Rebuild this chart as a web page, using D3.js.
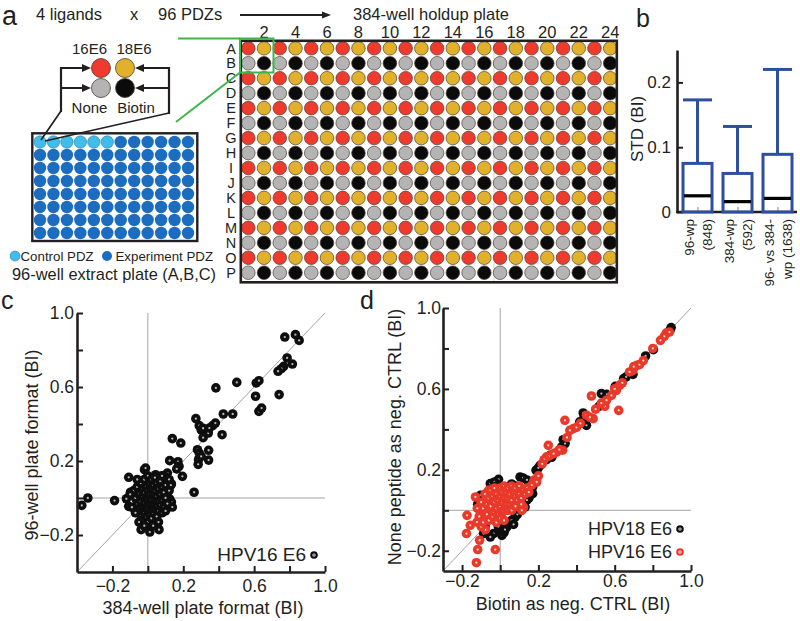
<!DOCTYPE html>
<html><head><meta charset="utf-8">
<script src="https://cdn.jsdelivr.net/npm/d3@7"></script>
<style>
body{margin:0;background:#fff;}
svg{display:block;font-family:"Liberation Sans",Arial,Helvetica,sans-serif;}
</style></head><body>
<svg id="fig" width="800" height="621"></svg>
<script>
// ---------------- DATA ----------------
const ligands = ["16E6", "18E6", "None", "Biotin"];
const ligandColors = ["#ee3b2e", "#e2b12b", "#b4b4b4", "#0b0b0b"];
const plateColumnLabels = [2, 4, 6, 8, 10, 12, 14, 16, 18, 20, 22, 24];
const plateRowLabels = ["A","B","C","D","E","F","G","H","I","J","K","L","M","N","O","P"];
const extractLegend = ["Control PDZ", "Experiment PDZ"];
const extractColors = ["#41bde9", "#1c6dbf"];
const controlWellCount = 6;

const stdCategories = [["96-wp", "(848)"], ["384-wp", "(592)"], ["96- vs 384-", "wp (1638)"]];
const stdQ1 = [0, 0, 0];
const stdMedian = [0.025, 0.016, 0.021];
const stdQ3 = [0.075, 0.0595, 0.089];
const stdWhiskerHigh = [0.173, 0.132, 0.22];
const stdTicks = [0, 0.1, 0.2];

const scatterTicks = [-0.2, 0, 0.2, 0.4, 0.6, 0.8, 1.0];
const scatterTickLabels = [-0.2, 0.2, 0.6, 1.0];

// panel c: HPV16 E6, 384-well (x) vs 96-well (y)
const hpv16Formats = [
[0.773,0.870],[0.833,0.883],[0.854,0.852],[0.786,0.757],[0.816,0.724],[0.767,0.712],[0.754,0.699],[0.735,0.685],
[0.741,0.559],[0.612,0.622],[0.627,0.634],[0.608,0.550],[0.627,0.468],[0.642,0.486],[0.384,0.595],[0.502,0.625],
[0.426,0.454],[0.479,0.454],[0.271,0.429],[0.366,0.391],[0.381,0.405],[0.419,0.342],[0.290,0.391],[0.301,0.369],
[0.312,0.377],[0.341,0.351],[0.347,0.378],[0.312,0.326],[0.280,0.261],[0.290,0.243],[0.343,0.258],[0.286,0.207],
[0.343,0.205],[0.284,0.182],[0.301,0.225],[0.138,0.321],[0.186,0.297],[0.123,0.202],[0.170,0.196],[0.176,0.171],
[0.163,0.157],[0.195,0.117],[0.261,0.031],[0.133,0.076],[0.123,-0.005],[0.133,-0.022],[0.138,-0.049],[-0.373,-0.040],
[-0.339,0.000],[-0.188,-0.014],[-0.108,0.112],[-0.121,-0.004],[-0.108,-0.045],[-0.098,0.031],[-0.038,-0.171],[0.011,-0.184],
[0.063,-0.171],[-0.013,-0.146],[0.044,-0.135],[0.091,0.090],[0.110,0.135],[0.091,0.121],[-0.019,0.153],[-0.013,0.162],
[0.044,0.126],
[-0.08,0.04],[-0.07,0.0],[-0.06,-0.03],[-0.06,0.06],[-0.05,0.02],[-0.05,-0.06],[-0.04,0.08],[-0.04,-0.02],[-0.04,-0.09],
[-0.03,0.05],[-0.03,0.01],[-0.03,-0.05],[-0.03,-0.12],[-0.02,0.10],[-0.02,0.03],[-0.02,-0.03],[-0.02,-0.08],[-0.01,0.06],
[-0.01,0.0],[-0.01,-0.05],[-0.01,-0.10],[0.0,0.12],[0.0,0.04],[0.0,-0.01],[0.0,-0.06],[0.0,-0.13],[0.01,0.08],[0.01,0.02],
[0.01,-0.03],[0.01,-0.09],[0.02,0.10],[0.02,0.05],[0.02,-0.01],[0.02,-0.06],[0.02,-0.11],[0.03,0.07],[0.03,0.02],[0.03,-0.04],
[0.03,-0.08],[0.04,0.11],[0.04,0.04],[0.04,-0.01],[0.04,-0.06],[0.05,0.08],[0.05,0.01],[0.05,-0.04],[0.05,-0.10],[0.06,0.05],
[0.06,-0.02],[0.06,-0.07],[0.07,0.09],[0.07,0.02],[0.07,-0.04],[0.08,0.06],[0.08,-0.01],[0.08,-0.08],[0.09,0.03],[0.09,-0.05],
[0.10,0.07],[0.10,0.0],[0.11,-0.03],[0.12,0.04],[-0.05,-0.13],[0.03,-0.15],[0.06,-0.13],[-0.09,-0.05],[-0.10,0.02],[0.12,0.10],
[0.13,0.07],[-0.07,-0.08],[-0.06,0.10],[0.08,0.12],[0.10,-0.07],[-0.02,-0.15]
];

// panel d: biotin control (x) vs none-peptide control (y)
const hpv18Controls = [
[0.896,0.903],[0.890,0.890],[0.803,0.794],[0.762,0.763],[0.696,0.672],[0.647,0.651],[0.660,0.660],[0.603,0.613],
[0.557,0.573],[0.530,0.577],[0.518,0.514],[0.435,0.481],[0.452,0.420],[0.417,0.437],[0.440,0.460],[0.330,0.349],
[0.322,0.313],[0.340,0.330],[0.261,0.272],[0.243,0.250],[0.270,0.262],[0.209,0.222],[0.188,0.198],[0.200,0.210],
[0.170,0.115],[0.160,0.130],[0.104,0.165],[0.120,0.160],[0.140,0.150],[-0.009,0.153],[-0.052,0.132],[-0.030,0.140],
[-0.104,0.074],[-0.118,0.030],[-0.087,-0.115],[-0.035,-0.115],[0.000,-0.099],[0.035,-0.082],[0.078,-0.033],[0.130,0.016],
[0.170,0.082],[-0.052,-0.132],[0.009,-0.124],[-0.070,-0.040],[0.020,-0.110],[0.050,-0.060],[0.060,-0.050],[0.090,-0.020],
[0.110,0.000],[0.150,0.060],[0.160,0.090],[0.120,0.040],[0.100,0.030],[-0.060,0.090],[-0.080,0.060],[-0.020,0.120],
[0.060,0.130],[0.080,0.120],[-0.100,0.000],[-0.080,-0.080],[0.040,0.100],[0.000,0.100],[0.025,-0.095],[-0.010,-0.080],
[0.070,-0.070],[0.140,0.050]
];
const hpv16Controls = [
[0.870,0.876],[0.887,0.881],[0.860,0.860],[0.717,0.717],[0.696,0.692],[0.678,0.684],[0.730,0.720],[0.626,0.618],
[0.609,0.593],[0.583,0.568],[0.557,0.544],[0.478,0.565],[0.548,0.514],[0.621,0.494],[0.487,0.453],[0.452,0.470],
[0.470,0.460],[0.339,0.445],[0.383,0.404],[0.365,0.395],[0.400,0.410],[0.252,0.321],[0.327,0.297],[0.296,0.288],
[0.310,0.300],[0.243,0.264],[0.230,0.250],[0.177,0.148],[0.191,0.140],[0.165,0.124],[0.200,0.170],[0.122,0.016],
[0.113,0.000],[-0.174,-0.025],[-0.177,-0.115],[-0.157,-0.074],[-0.108,-0.148],[-0.118,-0.194],[-0.026,-0.194],[-0.125,-0.259],
[-0.130,0.066],[-0.061,0.099],[-0.083,-0.016],[-0.078,-0.096],[-0.122,-0.058],
[0.22,0.23],[0.26,0.27],[0.28,0.28],[0.35,0.36],[0.42,0.43],[0.50,0.50],[0.53,0.53],[0.60,0.60],[0.64,0.63],[0.70,0.71],
[0.75,0.74],[0.80,0.80],[0.84,0.84],
[-0.10,0.04],[-0.09,0.01],[-0.08,0.08],[-0.07,0.03],[-0.07,-0.02],[-0.06,0.06],[-0.06,-0.05],[-0.05,0.10],[-0.05,0.02],
[-0.04,-0.03],[-0.04,0.07],[-0.03,0.11],[-0.03,0.04],[-0.03,-0.01],[-0.02,0.08],[-0.02,0.01],[-0.02,-0.06],[-0.01,0.05],
[-0.01,-0.02],[0.00,0.11],[0.00,0.07],[0.00,0.02],[0.00,-0.04],[0.01,0.09],[0.01,0.04],[0.01,-0.01],[0.02,0.12],[0.02,0.06],
[0.02,0.00],[0.02,-0.05],[0.03,0.09],[0.03,0.03],[0.04,0.11],[0.04,0.06],[0.04,0.00],[0.05,0.08],[0.05,0.03],[0.06,0.12],
[0.06,0.05],[0.07,0.09],[0.07,0.02],[0.08,0.07],[0.08,0.11],[0.09,0.05],[0.10,0.08],[0.10,0.12],[0.11,0.06],[0.12,0.10],
[0.13,0.08],[0.14,0.11],[0.15,0.09],[0.06,0.00],[0.08,0.02],[0.11,0.03],[-0.11,-0.03],[-0.10,-0.08],[-0.09,-0.06],[-0.12,0.01]
];

// ---------------- DRAWING ----------------
const INK = "#231f20";
const svg = d3.select("#fig");
svg.append("rect").attr("width", 800).attr("height", 621).attr("fill", "#fff");

function label(g, x, y, s, size, anchor) {
  return g.append("text").attr("x", x).attr("y", y).attr("font-size", size)
    .attr("text-anchor", anchor || "start").attr("fill", INK).text(s);
}
function arrowHead(g, tipX, tipY, dir, len, half) {
  const b = tipX - dir * len;
  g.append("path").attr("d", `M${tipX},${tipY}L${b},${tipY - half}L${b},${tipY + half}Z`).attr("fill", INK);
}

// ===== Panel a =====
const ga = svg.append("g");
label(ga, 2, 25, "a", 27);
label(ga, 36, 20, "4 ligands", 16.5);
label(ga, 130, 20, "x", 16.5);
label(ga, 158, 20, "96 PDZs", 16.5);
ga.append("line").attr("x1", 240).attr("x2", 324).attr("y1", 15).attr("y2", 15).attr("stroke", INK).attr("stroke-width", 2);
arrowHead(ga, 331, 15, 1, 9, 3.5);
label(ga, 353, 20, "384-well holdup plate", 16.5);

// 384-well plate
const colX = d3.scalePoint().domain(d3.range(1, 25)).range([248.3, 610.2]);
const rowY = d3.scalePoint().domain(plateRowLabels).range([48.3, 272.7]);
const wells = [];
plateRowLabels.forEach((r, ri) => colX.domain().forEach(c => {
  const li = (ri % 2 === 0 ? 0 : 2) + (c % 2 === 1 ? 0 : 1);
  wells.push({ r, c, li });
}));
ga.append("rect").attr("x", 240.8).attr("y", 40.8).attr("width", 376).attr("height", 241.5).attr("fill", "#fff");
ga.append("line").attr("x1", 494).attr("x2", 494).attr("y1", 41).attr("y2", 282).attr("stroke", "#c8c8c8").attr("stroke-width", 0.8);
ga.selectAll(null).data(wells).join("circle")
  .attr("cx", d => colX(d.c)).attr("cy", d => rowY(d.r)).attr("r", 6.8)
  .attr("fill", d => ligandColors[d.li]).attr("stroke", "#4a3f35").attr("stroke-width", 0.7);
ga.append("rect").attr("x", 240.8).attr("y", 40.8).attr("width", 376).attr("height", 241.5)
  .attr("fill", "none").attr("stroke", INK).attr("stroke-width", 2.6);
ga.selectAll(null).data(plateColumnLabels).join("text")
  .attr("x", d => colX(d)).attr("y", 37.5).attr("text-anchor", "middle").attr("font-size", 16.5).attr("fill", INK).text(d => d);
ga.selectAll(null).data(plateRowLabels).join("text")
  .attr("x", 231).attr("y", d => rowY(d) + 5.2)
  .attr("text-anchor", "middle").attr("font-size", 14.5).attr("fill", INK).text(d => d);

// green zoom box
const green = "#3db54a";
ga.append("rect").attr("x", 240).attr("y", 38.5).attr("width", 33.5).attr("height", 34).attr("fill", "none").attr("stroke", green).attr("stroke-width", 2);
ga.append("path").attr("d", "M178,38.5H240M240,72.5L176,122").attr("stroke", green).attr("stroke-width", 2).attr("fill", "none");

// ligand legend
const legX = d3.scalePoint().domain([0, 1]).range([101, 125]);
const legY = d3.scalePoint().domain([0, 1]).range([68, 88]);
ligands.forEach((l, i) => {
  const cx = legX(i % 2), cy = legY(Math.floor(i / 2));
  ga.append("circle").attr("cx", cx).attr("cy", cy).attr("r", 9.5).attr("fill", ligandColors[i]).attr("stroke", "#4a3f35").attr("stroke-width", 0.8);
});
label(ga, 89.5, 54, ligands[0], 15, "middle");
label(ga, 134, 54, ligands[1], 15, "middle");
label(ga, 89.5, 113, ligands[2], 15, "middle");
label(ga, 136, 113, ligands[3], 15, "middle");

// brackets and arrows
const br = ga.append("g").attr("stroke", INK).attr("stroke-width", 2.2).attr("fill", "none");
br.append("path").attr("d", "M84,68H61V112M61,88H84");
br.append("path").attr("d", "M142,68H169V114M169,88H142");
arrowHead(ga, 91, 68, 1, 9, 4); arrowHead(ga, 91, 88, 1, 9, 4);
arrowHead(ga, 135, 68, -1, 9, 4); arrowHead(ga, 135, 88, -1, 9, 4);

// 96-well extract plate
const pX = d3.scalePoint().domain(d3.range(1, 13)).range([40, 188]);
const pY = d3.scalePoint().domain(d3.range(1, 9)).range([142, 233]);
const pWells = [];
pY.domain().forEach(r => pX.domain().forEach(c => pWells.push({ r, c, ctrl: r === 1 && c <= controlWellCount })));
ga.append("rect").attr("x", 32.3).attr("y", 133.3).attr("width", 165).attr("height", 107.7).attr("fill", "#fff").attr("stroke", INK).attr("stroke-width", 2.4);
ga.selectAll(null).data(pWells).join("circle")
  .attr("cx", d => pX(d.c)).attr("cy", d => pY(d.r)).attr("r", 6.2)
  .attr("fill", d => d.ctrl ? extractColors[0] : extractColors[1])
  .attr("stroke", d => d.ctrl ? "#2a7fa8" : "none").attr("stroke-width", 0.6);
ga.append("path").attr("d", "M61,111L41,140M169,113L45,141").attr("stroke", INK).attr("stroke-width", 1.7).attr("fill", "none");

// extract legend
ga.append("circle").attr("cx", 15).attr("cy", 256).attr("r", 5).attr("fill", extractColors[0]).attr("stroke", "#2a7fa8").attr("stroke-width", 0.6);
label(ga, 20.5, 260.5, extractLegend[0], 13.3);
ga.append("circle").attr("cx", 107).attr("cy", 256).attr("r", 5).attr("fill", extractColors[1]);
label(ga, 115.5, 260.5, extractLegend[1], 13.3);
label(ga, 12, 279.5, "96-well extract plate (A,B,C)", 16.4);

// ===== Panel b =====
const gb = svg.append("g");
label(gb, 636, 27, "b", 25);
const yb = d3.scaleLinear().domain([0, 0.25]).range([212, 50]);
const xb = d3.scalePoint().domain(d3.range(stdCategories.length)).range([697.5, 777.5]);
const bw = 29;
gb.append("line").attr("x1", 676).attr("x2", 797).attr("y1", 212).attr("y2", 212).attr("stroke", INK).attr("stroke-width", 2.6);
const xbAx = gb.append("g").attr("transform", "translate(0,212)").call(d3.axisBottom(xb).tickSize(-5).tickFormat(""));
xbAx.select(".domain").remove();
xbAx.selectAll("line").attr("stroke", "#888").attr("stroke-width", 1);
const ybAx = gb.append("g").attr("transform", "translate(677,0)")
  .call(d3.axisLeft(yb).tickValues(stdTicks).tickSize(-6).tickSizeOuter(0).tickPadding(6)
    .tickFormat(d => d === 0 ? "0" : d3.format(".1f")(d)));
ybAx.select(".domain").attr("stroke", INK).attr("stroke-width", 2.6);
ybAx.selectAll(".tick line").attr("stroke", INK).attr("stroke-width", 2);
ybAx.selectAll("text").attr("font-size", 17).attr("fill", INK);
ybAx.attr("font-family", null);
gb.append("text").attr("transform", "translate(643,129) rotate(-90)").attr("text-anchor", "middle")
  .attr("font-size", 17).attr("fill", INK).text("STD (BI)");

const blue = "#2e4f9f";
stdCategories.forEach((cat, i) => {
  const cx = xb(i);
  gb.append("line").attr("x1", cx).attr("x2", cx).attr("y1", yb(stdQ3[i])).attr("y2", yb(stdWhiskerHigh[i])).attr("stroke", blue).attr("stroke-width", 3);
  gb.append("line").attr("x1", cx - bw / 2).attr("x2", cx + bw / 2).attr("y1", yb(stdWhiskerHigh[i])).attr("y2", yb(stdWhiskerHigh[i])).attr("stroke", blue).attr("stroke-width", 3);
  gb.append("rect").attr("x", cx - bw / 2).attr("y", yb(stdQ3[i])).attr("width", bw).attr("height", yb(stdQ1[i]) - yb(stdQ3[i]))
    .attr("fill", "none").attr("stroke", blue).attr("stroke-width", 3);
  gb.append("line").attr("x1", cx - bw / 2 + 1).attr("x2", cx + bw / 2 - 1).attr("y1", yb(stdMedian[i])).attr("y2", yb(stdMedian[i])).attr("stroke", "#000").attr("stroke-width", 3.2);
  cat.forEach((s, j) => {
    gb.append("text").attr("transform", `translate(${cx - 3.5 + j * 18},219) rotate(-90)`).attr("text-anchor", "end")
      .attr("font-size", 13.5).attr("fill", INK).text(s);
  });
});

// ===== Scatter panels =====
function marker(sel, fill, dot, r) {
  sel.append("circle").attr("r", r).attr("fill", fill);
  sel.append("circle").attr("r", 1.15).attr("fill", dot);
}
function scatterPanel(opts) {
  const g = svg.append("g");
  const x = d3.scaleLinear().domain(opts.domain).range(opts.xr);
  const y = d3.scaleLinear().domain(opts.domain).range(opts.yr);
  const grey = "#9a9a9a";
  g.append("line").attr("x1", x(0)).attr("x2", x(0)).attr("y1", opts.yr[0]).attr("y2", opts.yr[1]).attr("stroke", grey).attr("stroke-width", 0.9);
  g.append("line").attr("x1", opts.xr[0]).attr("x2", opts.xr[1]).attr("y1", y(0)).attr("y2", y(0)).attr("stroke", grey).attr("stroke-width", 0.9);
  g.append("line").attr("x1", x(opts.domain[0])).attr("y1", y(opts.domain[0])).attr("x2", x(opts.domain[1])).attr("y2", y(opts.domain[1])).attr("stroke", grey).attr("stroke-width", 0.9);
  opts.series.forEach(s => {
    const m = g.append("g").selectAll(null).data(s.data).join("g").attr("transform", d => `translate(${x(d[0])},${y(d[1])})`);
    marker(m, s.fill, s.dot, 4.8);
  });
  const fmt = d => scatterTickLabels.includes(d) ? d3.format(".1f")(d) : "";
  const ax = g.append("g").attr("transform", `translate(0,${opts.yr[0]})`)
    .call(d3.axisBottom(x).tickValues(scatterTicks).tickFormat(fmt).tickSize(-6).tickSizeOuter(0).tickPadding(opts.padX));
  const ay = g.append("g").attr("transform", `translate(${opts.xr[0]},0)`)
    .call(d3.axisLeft(y).tickValues(scatterTicks).tickFormat(fmt).tickSize(-6).tickSizeOuter(0).tickPadding(opts.padY));
  [ax, ay].forEach(a => {
    a.attr("font-family", null);
    a.select(".domain").attr("stroke", INK).attr("stroke-width", 2.6);
    a.selectAll(".tick line").attr("stroke", INK).attr("stroke-width", 2);
    a.selectAll("text").attr("font-size", 17.5).attr("fill", INK);
  });
  g.append("text").attr("x", (opts.xr[0] + opts.xr[1]) / 2 + opts.xlOff).attr("y", opts.xlY).attr("text-anchor", "middle")
    .attr("font-size", 18).attr("fill", INK).text(opts.xlabel);
  g.append("text").attr("transform", `translate(${opts.ylX},${opts.ylC}) rotate(-90)`).attr("text-anchor", "middle")
    .attr("font-size", 18).attr("fill", INK).text(opts.ylabel);
  opts.series.forEach(s => {
    label(g, s.legX, s.legY + 6, s.name, opts.legSize, "end");
    const lm = g.append("g").attr("transform", `translate(${s.legX + 8},${s.legY})`);
    lm.append("circle").attr("r", 3.8).attr("fill", s.fill);
    lm.append("circle").attr("r", 1.6).attr("fill", "#fff");
    lm.append("circle").attr("r", 0.8).attr("fill", s.fill);
  });
  label(g, opts.tagX, opts.tagY, opts.tag, 25);
}

scatterPanel({
  tag: "c", tagX: 1, tagY: 309,
  domain: [-0.4, 1.0], xr: [77, 325], yr: [572, 313], padX: 8, padY: 3,
  xlabel: "384-well plate format (BI)", xlOff: 2, xlY: 614,
  ylabel: "96-well plate format (BI)", ylX: 38, ylC: 445,
  legSize: 19,
  series: [{ name: "HPV16 E6", data: hpv16Formats, fill: "#0e0e0e", dot: "#b8b8b8", legX: 306, legY: 555 }]
});
scatterPanel({
  tag: "d", tagX: 360, tagY: 309,
  domain: [-0.3, 1.0], xr: [443, 691], yr: [571, 308], padX: 4, padY: 2,
  xlabel: "Biotin as neg. CTRL (BI)", xlOff: 6, xlY: 610,
  ylabel: "None peptide as neg. CTRL (BI)", ylX: 401, ylC: 437,
  legSize: 18,
  series: [
    { name: "HPV18 E6", data: hpv18Controls, fill: "#0e0e0e", dot: "#b8b8b8", legX: 672, legY: 529 },
    { name: "HPV16 E6", data: hpv16Controls, fill: "#e8392b", dot: "#ffd6cc", legX: 672, legY: 552 }
  ]
});
</script>
</body></html>
